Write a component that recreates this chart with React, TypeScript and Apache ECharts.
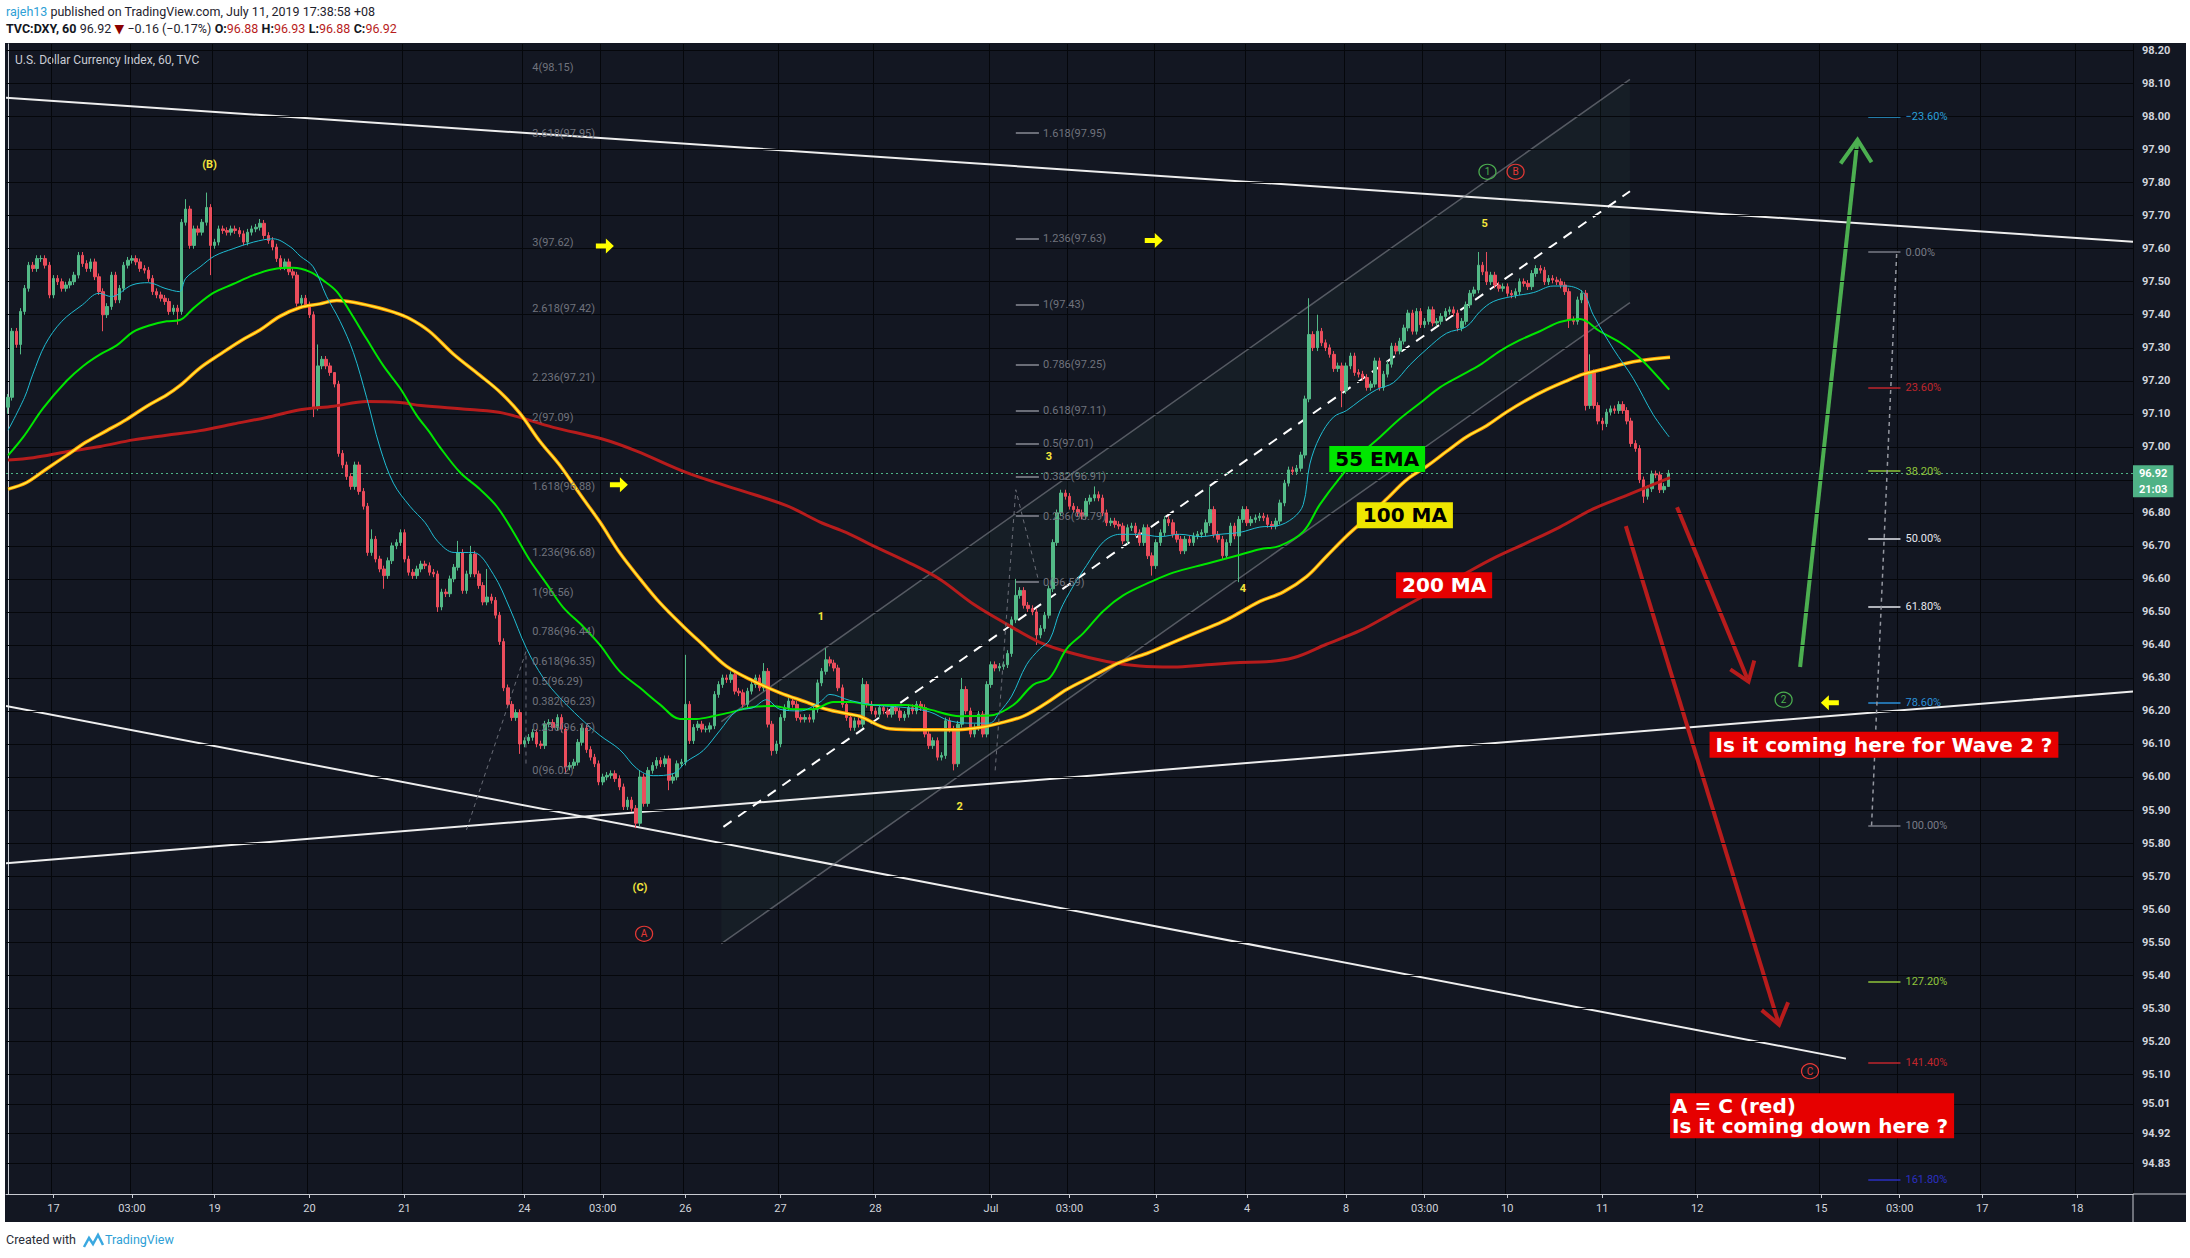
import React, { useEffect, useRef } from 'react';
import * as echarts from 'echarts';

const FONT = 'Roboto, "DejaVu Sans", sans-serif';
const BOLD_FONT = '"DejaVu Sans", Roboto, sans-serif';
const N_SLOTS = 515;
const Y_MIN = 94.737;
const Y_MAX = 98.22;
const FIRST_OPEN = 97.12;

// hourly closes, TVC:DXY 60
const closes = [
  97.15, 97.35, 97.31, 97.41, 97.48, 97.55, 97.54, 97.57, 97.57, 97.55,
  97.46, 97.51, 97.50, 97.48, 97.49, 97.50, 97.52, 97.58, 97.555, 97.54,
  97.56, 97.515, 97.47, 97.40, 97.425, 97.52, 97.445, 97.48, 97.55, 97.565,
  97.57, 97.56, 97.54, 97.535, 97.51, 97.47, 97.46, 97.45, 97.44, 97.41,
  97.42, 97.41, 97.68, 97.72, 97.61, 97.66, 97.65, 97.68, 97.725, 97.61,
  97.62, 97.66, 97.655, 97.65, 97.66, 97.655, 97.645, 97.62, 97.65, 97.66,
  97.665, 97.677, 97.64, 97.625, 97.605, 97.57, 97.545, 97.56, 97.53, 97.52,
  97.435, 97.45, 97.43, 97.40, 97.12, 97.245, 97.265, 97.245, 97.225, 97.19,
  96.98, 96.945, 96.91, 96.88, 96.945, 96.865, 96.82, 96.68, 96.72, 96.66,
  96.63, 96.61, 96.655, 96.70, 96.71, 96.74, 96.66, 96.62, 96.61, 96.63,
  96.645, 96.64, 96.62, 96.615, 96.515, 96.56, 96.555, 96.60, 96.635, 96.68,
  96.565, 96.615, 96.675, 96.615, 96.58, 96.53, 96.545, 96.535, 96.49, 96.41,
  96.27, 96.22, 96.18, 96.195, 96.10, 96.11, 96.12, 96.135, 96.10, 96.095,
  96.16, 96.165, 96.15, 96.18, 96.145, 96.03, 96.035, 96.045, 96.105, 96.148,
  96.083, 96.06, 96.04, 95.985, 96.00, 96.005, 96.01, 95.995, 95.97, 95.91,
  95.93, 95.905, 95.86, 96.00, 95.92, 96.02, 96.035, 96.05, 96.04, 96.055,
  95.99, 96.00, 96.04, 96.045, 96.22, 96.11, 96.15, 96.16, 96.145, 96.145,
  96.155, 96.25, 96.28, 96.30, 96.295, 96.31, 96.26, 96.255, 96.22, 96.26,
  96.28, 96.30, 96.27, 96.32, 96.16, 96.08, 96.10, 96.18, 96.21, 96.23,
  96.22, 96.18, 96.175, 96.18, 96.175, 96.205, 96.285, 96.32, 96.355, 96.345,
  96.33, 96.27, 96.22, 96.18, 96.15, 96.17, 96.16, 96.28, 96.22, 96.20,
  96.19, 96.21, 96.20, 96.19, 96.21, 96.20, 96.18, 96.19, 96.21, 96.20,
  96.22, 96.21, 96.13, 96.095, 96.11, 96.06, 96.065, 96.17, 96.145, 96.04,
  96.16, 96.265, 96.20, 96.13, 96.15, 96.19, 96.13, 96.28, 96.34, 96.33,
  96.335, 96.34, 96.374, 96.476, 96.55, 96.565, 96.52, 96.51, 96.50, 96.43,
  96.45, 96.49, 96.57, 96.71, 96.80, 96.86, 96.85, 96.82, 96.81, 96.80,
  96.79, 96.835, 96.845, 96.855, 96.845, 96.80, 96.77, 96.775, 96.765, 96.76,
  96.715, 96.755, 96.76, 96.74, 96.71, 96.755, 96.67, 96.64, 96.71, 96.74,
  96.78, 96.77, 96.735, 96.72, 96.685, 96.72, 96.71, 96.73, 96.735, 96.74,
  96.77, 96.81, 96.735, 96.72, 96.67, 96.71, 96.76, 96.73, 96.78, 96.81,
  96.77, 96.78, 96.785, 96.79, 96.785, 96.765, 96.76, 96.775, 96.83, 96.89,
  96.93, 96.925, 96.935, 96.975, 97.145, 97.34, 97.30, 97.35, 97.315, 97.30,
  97.28, 97.237, 97.245, 97.17, 97.245, 97.275, 97.225, 97.22, 97.21, 97.18,
  97.19, 97.26, 97.18, 97.22, 97.25, 97.305, 97.29, 97.32, 97.36, 97.405,
  97.35, 97.41, 97.37, 97.38, 97.415, 97.375, 97.38, 97.395, 97.41, 97.415,
  97.405, 97.36, 97.38, 97.43, 97.465, 97.475, 97.55, 97.53, 97.50, 97.52,
  97.49, 97.48, 97.485, 97.465, 97.46, 97.47, 97.50, 97.495, 97.485, 97.525,
  97.54, 97.535, 97.50, 97.51, 97.505, 97.50, 97.49, 97.47, 97.385, 97.38,
  97.445, 97.465, 97.125, 97.224, 97.125, 97.078, 97.07, 97.105, 97.115, 97.11,
  97.128, 97.11, 97.078, 97.01, 96.995, 96.90, 96.85, 96.873, 96.918, 96.915,
  96.87, 96.88, 96.92,
];

// notable wicks [candle index, price]
const wickHighs: [number, number][] = [
  [0, 97.16], [43, 97.75], [48, 97.77], [61, 97.69], [75, 97.31], [79, 97.2], [88, 96.75],
  [109, 96.715], [112, 96.7], [116, 96.63], [153, 96.02], [164, 96.37], [183, 96.345],
  [198, 96.39], [207, 96.3], [231, 96.3], [244, 96.6], [255, 96.87], [263, 96.88],
  [291, 96.88], [315, 97.45], [317, 97.4], [356, 97.59], [358, 97.59], [383, 97.28], [402, 96.93],
];
const wickLows: [number, number][] = [
  [0, 97.1], [3, 97.28], [23, 97.35], [41, 97.37], [49, 97.52], [74, 97.09], [91, 96.57],
  [104, 96.5], [124, 96.07], [135, 96.01], [152, 95.845], [160, 95.96], [185, 96.065],
  [229, 96.02], [249, 96.4], [277, 96.61], [298, 96.59], [323, 97.12], [378, 97.36],
  [382, 97.11], [386, 97.05], [396, 96.83], [402, 96.88],
];

const xTickIdx = [11, 30, 50, 73, 96, 125, 144, 164, 187, 210, 238, 257, 278, 300, 324, 343, 363, 386, 409, 439, 458, 478, 501];
const xTickLabels = ['17', '03:00', '19', '20', '21', '24', '03:00', '26', '27', '28', 'Jul', '03:00', '3', '4', '8', '03:00', '10', '11', '12', '15', '03:00', '17', '18'];

const yTicks = [98.2, 98.1, 98.0, 97.9, 97.8, 97.7, 97.6, 97.5, 97.4, 97.3, 97.2, 97.1, 97.0, 96.9, 96.8, 96.7, 96.6, 96.5, 96.4, 96.3, 96.2, 96.1, 96.0, 95.9, 95.8, 95.7, 95.6, 95.5, 95.4, 95.3, 95.2, 95.1, 95.01, 94.92, 94.83];
const yLabelsHidden = [96.9];

// moving averages: [candle index, price]
const ema21: [number, number][] = [
  [0, 97.05], [4, 97.15], [6, 97.22], [9, 97.31], [13, 97.38], [18, 97.43], [22, 97.465], [25, 97.455], [30, 97.49], [34, 97.497],
  [38, 97.48], [41.5, 97.47], [43, 97.51], [46.5, 97.545], [50, 97.578], [54.5, 97.6], [59.4, 97.62], [64.2, 97.63], [68.3, 97.606],
  [70.7, 97.578], [73.9, 97.545], [77.1, 97.456], [80.4, 97.38], [83.6, 97.286], [86.8, 97.15], [90, 97.0], [93.3, 96.89], [97.3, 96.82],
  [101, 96.77], [104, 96.714], [108, 96.68], [112.6, 96.68], [117.5, 96.614], [121.5, 96.51], [125.5, 96.39], [129.6, 96.3],
  [133.6, 96.24], [138.4, 96.18], [143.3, 96.126], [148.1, 96.083], [152.2, 96.026], [156.2, 96.004], [161, 96.01], [164.3, 96.047],
  [168.3, 96.08], [172.3, 96.14], [176.4, 96.2], [180.4, 96.21], [183.6, 96.234], [186.9, 96.205], [191.7, 96.2], [196.6, 96.227],
  [199, 96.25], [203.8, 96.232], [209.5, 96.218], [217.5, 96.21], [223.2, 96.197], [228, 96.17], [233.7, 96.163], [237.7, 96.163],
  [240.1, 96.197], [243, 96.245], [246.6, 96.34], [249.8, 96.388], [252.2, 96.415], [254.7, 96.503], [257.9, 96.578], [261.1, 96.64],
  [265.2, 96.712], [269.2, 96.735], [274, 96.735], [278.9, 96.728], [283.7, 96.735], [288.6, 96.728], [293.4, 96.735], [298.3, 96.741],
  [303.1, 96.757], [307.1, 96.76], [311.2, 96.785], [313.6, 96.825], [315.2, 96.948], [317.6, 97.03], [320.9, 97.09], [324.1, 97.11],
  [327.3, 97.14], [331.3, 97.173], [335.4, 97.194], [339.4, 97.248], [343.5, 97.296], [348.3, 97.344], [353.1, 97.364], [356.4, 97.41],
  [359.6, 97.44], [364.4, 97.456], [369.3, 97.467], [374.1, 97.487], [377.4, 97.487], [381.4, 97.467], [383.8, 97.4], [388.7, 97.296],
  [393.5, 97.207], [398.3, 97.098], [402.2, 97.03],
];
const ema55: [number, number][] = [
  [0, 96.974], [3.7, 97.03], [8.5, 97.117], [14.2, 97.2], [18.2, 97.245], [22.3, 97.28], [26.3, 97.307], [30.3, 97.348], [34.4, 97.368],
  [38.4, 97.38], [41.6, 97.384], [44.9, 97.42], [49.7, 97.466], [54.5, 97.493], [59.4, 97.52], [64.2, 97.538], [69, 97.542], [73.1, 97.53],
  [76.3, 97.504], [79.6, 97.47], [82.8, 97.409], [86.8, 97.327], [90.9, 97.245], [94.9, 97.178], [98.9, 97.096], [102, 97.045],
  [104.5, 97.0], [109.4, 96.923], [114.2, 96.872], [118.3, 96.82], [122.3, 96.743], [126.3, 96.657], [130.4, 96.585], [134.4, 96.514],
  [139.2, 96.456], [143.3, 96.4], [148.1, 96.32], [153, 96.27], [157.8, 96.22], [162.7, 96.176], [166.7, 96.176], [170.7, 96.184],
  [175.6, 96.198], [180.4, 96.212], [185.3, 96.215], [190.1, 96.205], [194.9, 96.205], [199.8, 96.227], [203.8, 96.227], [209.5, 96.218],
  [217.5, 96.218], [223.2, 96.204], [230.5, 96.184], [237.7, 96.186], [243.4, 96.218], [248.2, 96.279], [252.2, 96.3], [256.3, 96.388],
  [260.3, 96.435], [265.2, 96.503], [270, 96.55], [276.5, 96.59], [282.1, 96.619], [290.2, 96.646], [298.3, 96.673], [303.1, 96.69],
  [307.9, 96.7], [313.6, 96.743], [317.6, 96.825], [322.5, 96.907], [327.3, 96.975], [332.2, 97.03], [337, 97.085], [341.8, 97.132],
  [346.7, 97.18], [351.5, 97.214], [356.4, 97.248], [361.2, 97.29], [366, 97.323], [370.9, 97.35], [375.7, 97.378], [380.6, 97.387],
  [385.4, 97.35], [390.3, 97.316], [395.1, 97.269], [402.2, 97.173],
];
const ma100: [number, number][] = [
  [0, 96.872], [4.5, 96.892], [9.3, 96.933], [14.2, 96.974], [19, 97.015], [23.9, 97.049], [28.7, 97.083], [33.6, 97.123], [38.4, 97.157],
  [41.6, 97.185], [46.5, 97.239], [51.3, 97.28], [56.2, 97.32], [61, 97.354], [65.8, 97.395], [70.7, 97.422], [75.5, 97.433], [79.6, 97.443],
  [83.6, 97.438], [88.4, 97.425], [93.3, 97.408], [97.3, 97.388], [102, 97.35], [107.8, 97.281], [114.2, 97.217], [119.1, 97.166],
  [123.9, 97.102], [128.8, 97.016], [133.6, 96.944], [138.4, 96.858], [143.3, 96.772], [148.1, 96.679], [153, 96.6], [157.8, 96.528],
  [163.5, 96.456], [168.3, 96.4], [174, 96.335], [180.4, 96.291], [186.9, 96.255], [193.3, 96.227], [198.2, 96.205], [203.8, 96.19],
  [206.2, 96.184], [213.5, 96.146], [221.6, 96.143], [228.8, 96.143], [235.3, 96.15], [240.1, 96.163], [245.8, 96.184], [251.4, 96.224],
  [256.3, 96.265], [262.7, 96.306], [269.2, 96.347], [275.7, 96.374], [282.1, 96.408], [288.6, 96.442], [295, 96.476], [299.9, 96.51],
  [303.1, 96.532], [308.7, 96.56], [314.4, 96.607], [319.2, 96.668], [324.1, 96.73], [328.9, 96.784], [333.8, 96.842], [338.6, 96.9],
  [343.5, 96.941], [348.3, 96.986], [353.1, 97.03], [358, 97.064], [362.8, 97.105], [367.7, 97.142], [372.5, 97.173], [377.4, 97.2],
  [381.4, 97.22], [386.2, 97.235], [391.1, 97.251], [395.9, 97.262], [402.4, 97.271],
];
const ma200: [number, number][] = [
  [0, 96.96], [6.1, 96.967], [14.2, 96.985], [22.3, 97.001], [30.3, 97.021], [38.4, 97.035], [46.5, 97.049], [54.5, 97.069], [62.6, 97.089],
  [70.7, 97.112], [78.8, 97.123], [86.8, 97.137], [94.9, 97.134], [100, 97.125], [111.8, 97.113], [119.9, 97.102], [132, 97.059],
  [144.1, 97.023], [152.2, 96.987], [164.3, 96.922], [176.4, 96.872], [188.5, 96.822], [196.6, 96.772], [203, 96.74], [209.5, 96.7],
  [217.5, 96.653], [225.6, 96.599], [233.7, 96.524], [241.8, 96.463], [249.8, 96.408], [257.9, 96.374], [266, 96.35], [274, 96.336],
  [282.1, 96.333], [290.2, 96.34], [298.3, 96.347], [303.1, 96.348], [311.2, 96.361], [319.2, 96.402], [327.3, 96.443], [335.4, 96.498],
  [343.5, 96.553], [351.5, 96.607], [359.6, 96.662], [367.7, 96.709], [375.7, 96.757], [383.8, 96.812], [391.9, 96.853], [402.4, 96.907],
];

// drawings
const trendUpper: [number, number][] = [[-0.5, 98.057], [514.5, 97.621]];
const trendFalling: [number, number][] = [[-0.5, 96.215], [445, 95.147]];
const trendRising: [number, number][] = [[-0.5, 95.739], [514.5, 96.259]];
const channelUpper: [number, number][] = [[172.7, 96.168], [392.7, 98.113]];
const channelLower: [number, number][] = [[172.7, 95.495], [392.7, 97.437]];
const channelMid: [number, number][] = [[173.2, 95.849], [392.7, 97.774]];

const leftFibX = 126.9;
const leftFibRatios = ['4', '3.618', '3', '2.618', '2.236', '2', '1.618', '1.236', '1', '0.786', '0.618', '0.5', '0.382', '0.236', '0'];
const leftFibValues = [98.15, 97.95, 97.62, 97.42, 97.21, 97.09, 96.88, 96.68, 96.56, 96.44, 96.35, 96.29, 96.23, 96.15, 96.02];
const leftFibConnector: [number, number][] = [[111, 95.84], [125.4, 96.38], [125.4, 96.03]];

const midFibRatios = ['1.618', '1.236', '1', '0.786', '0.618', '0.5', '0.382', '0.236', '0'];
const midFibValues = [97.95, 97.63, 97.43, 97.25, 97.11, 97.01, 96.91, 96.79, 96.59];
const midFibSeg = [244, 249.6];
const midFibConnector: [number, number][] = [[239, 96.02], [244, 96.87], [249.4, 96.6]];

const retTop = 97.59;
const retBottom = 95.853;
const retRatios = [-0.236, 0, 0.236, 0.382, 0.5, 0.618, 0.786, 1, 1.272, 1.414, 1.618];
const retLabels = ['\u221223.60%', '0.00%', '23.60%', '38.20%', '50.00%', '61.80%', '78.60%', '100.00%', '127.20%', '141.40%', '161.80%'];
const retColors = ['#2a9fd8', '#787b86', '#c0262c', '#8fc43a', '#e6e8ee', '#e6e8ee', '#2a8fd8', '#787b86', '#8fc43a', '#c0262c', '#2b2fc0'];
const retSeg = [450.4, 458.2];
const retConnector: [number, number][] = [[451.2, 95.853], [457.3, 97.59]];

const redArrowLong: [number, number][] = [[391.7, 96.76], [428.8, 95.25]];
const redArrowLongHead: [number, number][] = [[424.6, 95.294], [428.8, 95.25], [431, 95.318]];
const redArrowShort: [number, number][] = [[404.1, 96.817], [421.4, 96.289]];
const redArrowShortHead: [number, number][] = [[417, 96.326], [421.4, 96.289], [422.8, 96.353]];
const greenArrow: [number, number][] = [[433.9, 96.333], [447.8, 97.93]];
const greenArrowHead: [number, number][] = [[443.7, 97.858], [447.8, 97.93], [451.2, 97.862]];

const waveLabels: { text: string; at: [number, number] }[] = [
  { text: '(B)', at: [48.8, 97.854] },
  { text: '(C)', at: [153, 95.664] },
  { text: '1', at: [196.8, 96.487] },
  { text: '2', at: [230.4, 95.912] },
  { text: '3', at: [252, 96.97] },
  { text: '4', at: [299, 96.572] },
  { text: '5', at: [357.5, 97.676] },
];
const circledLabels: { text: string; at: [number, number]; color: string }[] = [
  { text: 'A', at: [154, 95.525], color: '#e53935' },
  { text: '1', at: [358.2, 97.833], color: '#4caf50' },
  { text: 'B', at: [365, 97.833], color: '#e53935' },
  { text: '2', at: [429.9, 96.234], color: '#4caf50' },
  { text: 'C', at: [436.3, 95.109], color: '#e53935' },
];
const yellowArrows: { at: [number, number]; dir: 'right' | 'left' }[] = [
  { at: [144.5, 97.608], dir: 'right' },
  { at: [147.9, 96.885], dir: 'right' },
  { at: [277.4, 97.625], dir: 'right' },
  { at: [441.1, 96.225], dir: 'left' },
];
const boxNotes: { text: string; at: [number, number]; bg: string; color: string }[] = [
  { text: '55 EMA', at: [331.5, 96.963], bg: '#00e600', color: '#000000' },
  { text: '100 MA', at: [338.2, 96.793], bg: '#eee600', color: '#000000' },
  { text: '200 MA', at: [347.7, 96.581], bg: '#e60000', color: '#ffffff' },
  { text: 'Is it coming here for Wave 2 ?', at: [454.2, 96.098], bg: '#e60000', color: '#ffffff' },
];
const bottomNote = { text: 'A = C (red)\nIs it coming down here ?', at: [402.4, 94.974] as [number, number] };

const lastPrice = 96.92;
const countdown = '21:03';

function App() {
  const ref = useRef<HTMLDivElement>(null);
  useEffect(() => {
    document.body.style.margin = '0';
    if (!ref.current) return;
    const chart = echarts.init(ref.current, null, { renderer: 'svg' });

    const hiMap = new Map(wickHighs);
    const loMap = new Map(wickLows);
    const candles = closes.map((c, i) => {
      const o = i === 0 ? FIRST_OPEN : closes[i - 1];
      const top = Math.max(o, c);
      const bot = Math.min(o, c);
      const h = Math.max(hiMap.get(i) ?? top + 0.01, top);
      const l = Math.min(loMap.get(i) ?? bot - 0.01, bot);
      return [o, c, l, h];
    });
    const cats = Array.from({ length: N_SLOTS }, (_, i) => String(i));
    const tickSet = new Set(xTickIdx);
    const labelMap = new Map(xTickIdx.map((v, i) => [v, xTickLabels[i]]));

    const seg = (coords: [number, number][], color: string, width: number, type: any = 'solid') => ({
      coords,
      lineStyle: { color, width, type, opacity: 1 },
    });

    const straight: any[] = [
      seg(trendUpper, '#eeeeee', 2),
      seg(trendFalling, '#eeeeee', 2),
      seg(trendRising, '#eeeeee', 2),
      seg(channelUpper, 'rgba(130,134,142,0.6)', 1.5),
      seg(channelLower, 'rgba(130,134,142,0.6)', 1.5),
      seg(channelMid, '#ffffff', 2, [10, 8]),
      ...midFibValues.map((v) => seg([[midFibSeg[0], v], [midFibSeg[1], v]], '#6a6d77', 2)),
      ...retRatios.map((r, i) => {
        const v = retTop - r * (retTop - retBottom);
        return seg([[retSeg[0], v], [retSeg[1], v]], retColors[i], 1.5);
      }),
      seg(redArrowLong, '#b71c1c', 4),
      seg(redArrowShort, '#b71c1c', 4),
      seg(greenArrow, '#4caf50', 4),
    ];
    const poly: any[] = [
      seg(leftFibConnector, '#6a6d77', 1, [4, 4]),
      seg(midFibConnector, '#6a6d77', 1, [4, 4]),
      seg(retConnector, '#9598a1', 1.5, [4, 4]),
      seg(redArrowLongHead, '#b71c1c', 4),
      seg(redArrowShortHead, '#b71c1c', 4),
      seg(greenArrowHead, '#4caf50', 4),
    ];

    const textScatter = (name: string, data: any[], label: any, extra: any = {}) => ({
      name,
      type: 'scatter',
      xAxisIndex: 1,
      yAxisIndex: 0,
      symbolSize: 0.1,
      itemStyle: { color: 'transparent', opacity: 1 },
      silent: true,
      z: 20,
      data,
      label: { show: true, formatter: '{b}', fontFamily: FONT, ...label },
      ...extra,
    });

    const maLine = (name: string, data: [number, number][], color: string, width: number, z: number) => ({
      name,
      type: 'line',
      xAxisIndex: 1,
      yAxisIndex: 0,
      data,
      smooth: 0.35,
      showSymbol: false,
      symbol: 'none',
      silent: true,
      z,
      lineStyle: { color, width },
    });

    const rightArrowPath = 'path://M0,5 L10,5 L10,0 L18,7.5 L10,15 L10,10 L0,10 Z';

    const option: any = {
      animation: false,
      backgroundColor: '#ffffff',
      textStyle: { fontFamily: FONT },
      grid: { left: 6, right: 57, top: 44, bottom: 64, containLabel: false },
      xAxis: [
        {
          type: 'category',
          data: cats,
          boundaryGap: true,
          axisLine: { show: true, lineStyle: { color: '#c9cbd1', width: 1 } },
          axisTick: { show: true, alignWithLabel: true, interval: (i: number) => tickSet.has(i), length: 4, lineStyle: { color: '#c9cbd1' } },
          axisLabel: {
            interval: (i: number) => tickSet.has(i),
            formatter: (_v: string, i: number) => labelMap.get(i) ?? '',
            color: '#d1d4dc',
            fontSize: 11,
            margin: 9,
          },
          splitLine: { show: true, interval: (i: number) => tickSet.has(i), lineStyle: { color: '#05070b', width: 1 } },
        },
        { type: 'value', min: -0.5, max: N_SLOTS - 0.5, show: false },
      ],
      yAxis: [
        {
          type: 'value',
          position: 'right',
          min: Y_MIN,
          max: Y_MAX,
          axisLine: { show: true, lineStyle: { color: '#c9cbd1' } },
          axisTick: { show: true, customValues: yTicks, length: 5, lineStyle: { color: '#c9cbd1' } },
          axisLabel: {
            customValues: yTicks.filter((v) => !yLabelsHidden.includes(v)),
            formatter: (v: number) => v.toFixed(2),
            color: '#d1d4dc',
            fontSize: 11,
            fontWeight: 'bold',
            margin: 9,
          },
          splitLine: { show: false },
        },
      ],
      series: [
        {
          name: 'hgrid',
          type: 'line',
          xAxisIndex: 1,
          yAxisIndex: 0,
          data: [[-10, Y_MIN]],
          showSymbol: false,
          silent: true,
          z: 0,
          markLine: {
            silent: true,
            symbol: ['none', 'none'],
            label: { show: false },
            lineStyle: { color: '#05070b', width: 1, type: 'solid' },
            data: yTicks.map((v) => ({ yAxis: v })),
          },
        },
        {
          name: 'channelFill',
          type: 'custom',
          xAxisIndex: 1,
          yAxisIndex: 0,
          silent: true,
          z: 1,
          data: [[0, 96]],
          renderItem: (_p: any, api: any) => ({
            type: 'polygon',
            shape: { points: [channelUpper[0], channelUpper[1], channelLower[1], channelLower[0]].map((p) => api.coord(p)) },
            style: { fill: 'rgba(70,120,90,0.08)' },
          }),
        },
        {
          name: 'drawings',
          type: 'lines',
          coordinateSystem: 'cartesian2d',
          xAxisIndex: 1,
          yAxisIndex: 0,
          polyline: false,
          silent: true,
          z: 3,
          lineStyle: { opacity: 1 },
          data: straight,
        },
        {
          name: 'drawingsPoly',
          type: 'lines',
          coordinateSystem: 'cartesian2d',
          xAxisIndex: 1,
          yAxisIndex: 0,
          polyline: true,
          silent: true,
          z: 12,
          lineStyle: { opacity: 1 },
          data: poly,
        },
        {
          name: 'DXY',
          type: 'candlestick',
          xAxisIndex: 0,
          yAxisIndex: 0,
          data: candles,
          barWidth: 3,
          silent: true,
          z: 5,
          itemStyle: { color: '#53b987', color0: '#eb4d5c', borderColor: '#53b987', borderColor0: '#eb4d5c', borderWidth: 1 },
        },
        maLine('MA200', ma200, '#b71c1c', 3, 6),
        maLine('MA100 edge', ma100, '#ff9800', 3.5, 6),
        maLine('MA100', ma100, '#ffeb3b', 1.6, 7),
        maLine('EMA55', ema55, '#00e600', 2, 7),
        maLine('EMA21', ema21, '#1fbcd2', 1, 8),
        {
          name: 'price',
          type: 'line',
          xAxisIndex: 1,
          yAxisIndex: 0,
          data: [[-10, lastPrice]],
          showSymbol: false,
          silent: true,
          z: 9,
          markLine: {
            silent: true,
            symbol: ['none', 'none'],
            lineStyle: { color: '#4fb286', width: 1, type: [2, 3] },
            label: {
              show: true,
              position: 'end',
              distance: 0,
              offset: [0, 8],
              formatter: `{a|${lastPrice.toFixed(2)}}\n{a|${countdown}}`,
              backgroundColor: '#4fb286',
              padding: [0, 6],
              rich: { a: { color: '#ffffff', fontSize: 11, fontWeight: 'bold', lineHeight: 16, fontFamily: FONT } },
            },
            data: [{ yAxis: lastPrice }],
          },
        },
        textScatter(
          'leftFib',
          leftFibValues.map((v, i) => ({ value: [leftFibX, v], name: `${leftFibRatios[i]}(${v.toFixed(2)})` })),
          { position: 'right', distance: 0, color: '#70737d', fontSize: 11 },
        ),
        textScatter(
          'midFib',
          midFibValues.map((v, i) => ({ value: [midFibSeg[1] + 1, v], name: `${midFibRatios[i]}(${v.toFixed(2)})` })),
          { position: 'right', distance: 0, color: '#70737d', fontSize: 11 },
        ),
        textScatter(
          'retFib',
          retRatios.map((r, i) => ({
            value: [retSeg[1] + 1.2, retTop - r * (retTop - retBottom)],
            name: retLabels[i],
            label: { color: retColors[i] },
          })),
          { position: 'right', distance: 0, fontSize: 11 },
        ),
        textScatter(
          'waves',
          waveLabels.map((w) => ({ value: w.at, name: w.text })),
          { position: 'inside', color: '#f5e63c', fontSize: 11, fontWeight: 'bold' },
        ),
        {
          name: 'circled',
          type: 'scatter',
          xAxisIndex: 1,
          yAxisIndex: 0,
          symbol: 'circle',
          symbolSize: [17, 15],
          silent: true,
          z: 20,
          data: circledLabels.map((c) => ({
            value: c.at,
            name: c.text,
            itemStyle: { color: 'transparent', borderColor: c.color, borderWidth: 1.2, opacity: 1 },
            label: { color: c.color },
          })),
          label: { show: true, position: 'inside', formatter: '{b}', fontSize: 10, fontFamily: FONT },
        },
        {
          name: 'yellowArrows',
          type: 'scatter',
          xAxisIndex: 1,
          yAxisIndex: 0,
          symbol: rightArrowPath,
          symbolSize: [18, 15],
          silent: true,
          z: 20,
          itemStyle: { color: '#ffff00', opacity: 1 },
          data: yellowArrows.map((a) => ({ value: a.at, symbolRotate: a.dir === 'left' ? 180 : 0 })),
        },
        textScatter(
          'notes',
          boxNotes.map((b) => ({
            value: b.at,
            name: b.text,
            label: { backgroundColor: b.bg, color: b.color },
          })),
          { position: 'inside', fontSize: 20, fontWeight: 'bold', fontFamily: BOLD_FONT, padding: [2, 6, 1, 6], lineHeight: 23 },
          { z: 25 },
        ),
        textScatter(
          'bottomNote',
          [{ value: bottomNote.at, name: bottomNote.text }],
          {
            position: 'right',
            distance: 0,
            align: 'left',
            fontSize: 20,
            lineHeight: 20,
            fontWeight: 'bold',
            fontFamily: BOLD_FONT,
            color: '#ffffff',
            backgroundColor: '#e60000',
            padding: [3, 6, 2, 2],
          },
          { z: 25 },
        ),
      ],
      graphic: [
        { type: 'rect', z: -10, silent: true, shape: { x: 5, y: 43, width: 2181, height: 1179 }, style: { fill: '#131722' } },
        { type: 'line', z: 5, silent: true, shape: { x1: 2133, y1: 1194, x2: 2133, y2: 1222 }, style: { stroke: '#c9cbd1', lineWidth: 1 } },
        { type: 'line', z: 5, silent: true, shape: { x1: 2133, y1: 1194, x2: 2186, y2: 1194 }, style: { stroke: '#c9cbd1', lineWidth: 1 } },
        {
          type: 'text',
          left: 6,
          top: 5,
          silent: true,
          style: {
            text: '{u|rajeh13}{n| published on TradingView.com, July 11, 2019 17:38:58 +08}',
            rich: {
              u: { fill: '#2e9fd6', fontSize: 12.5, fontFamily: FONT },
              n: { fill: '#1e222d', fontSize: 12.5, fontFamily: FONT },
            },
          },
        },
        {
          type: 'text',
          left: 6,
          top: 22,
          silent: true,
          style: {
            text: '{b|TVC:DXY, 60} {n|96.92} {d|\u25bc} {n|\u22120.16 (\u22120.17%)} {b|O:}{r|96.88} {b|H:}{r|96.93} {b|L:}{r|96.88} {b|C:}{r|96.92}',
            rich: {
              b: { fill: '#131722', fontSize: 12.5, fontWeight: 'bold', fontFamily: FONT },
              n: { fill: '#1e222d', fontSize: 12.5, fontFamily: FONT },
              d: { fill: '#8b0000', fontSize: 12.5, fontFamily: FONT },
              r: { fill: '#b71c1c', fontSize: 12.5, fontFamily: FONT },
            },
          },
        },
        {
          type: 'text',
          left: 15,
          top: 54,
          silent: true,
          style: { text: 'U.S. Dollar Currency Index, 60, TVC', fill: '#c9ccd4', fontSize: 12, fontFamily: FONT },
        },
        {
          type: 'text',
          left: 6,
          top: 1233,
          silent: true,
          style: { text: 'Created with', fill: '#2a2e39', fontSize: 12.5, fontFamily: FONT },
        },
        {
          type: 'polyline',
          silent: true,
          shape: { points: [[84, 1247], [89, 1238], [93, 1244], [98, 1235], [103, 1245]] },
          style: { stroke: '#3aa8e0', lineWidth: 2.5, fill: 'none' },
        },
        {
          type: 'text',
          left: 105,
          top: 1233,
          silent: true,
          style: { text: 'TradingView', fill: '#2e9fd6', fontSize: 12.5, fontFamily: FONT },
        },
      ],
    };

    chart.setOption(option);
    return () => chart.dispose();
  }, []);

  return <div ref={ref} style={{ position: 'absolute', left: 0, top: 0, width: 2190, height: 1258 }} />;
}

export default App;
